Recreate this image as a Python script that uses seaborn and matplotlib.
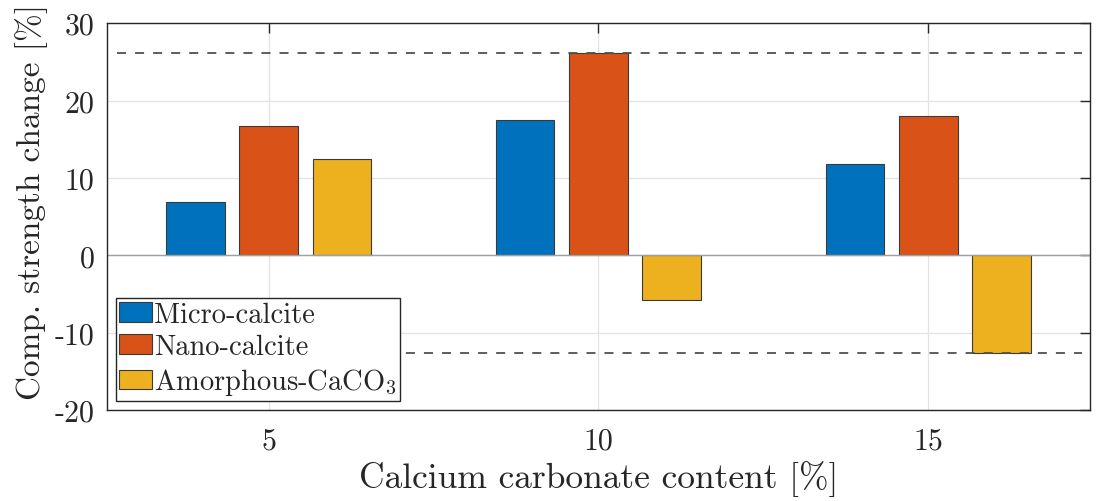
import numpy as np
import pandas as pd
import matplotlib
matplotlib.use("Agg")
import matplotlib.pyplot as plt
import seaborn as sns

# Compressive strength change per calcium carbonate type and content
contents = [5, 10, 15]
micro_calcite = [6.9, 17.5, 11.8]
nano_calcite = [16.7, 26.2, 18.0]
amorphous_caco3 = [12.5, -5.8, -12.6]
series_names = ["Micro-calcite", "Nano-calcite", r"Amorphous-CaCO$_3$"]
colors = ["#0072BD", "#D95319", "#EDB120"]
y_ticks = [-20, -10, 0, 10, 20, 30]

sns.set_theme(style="white")
plt.rcParams["font.family"] = "serif"
plt.rcParams["font.serif"] = ["cmr10"]
plt.rcParams["mathtext.fontset"] = "cm"
plt.rcParams["axes.unicode_minus"] = False

rows = []
for name, vals in zip(series_names, [micro_calcite, nano_calcite, amorphous_caco3]):
    for c, v in zip(contents, vals):
        rows.append({"content": c, "change": v, "type": name})
df = pd.DataFrame(rows)

fig = plt.figure(figsize=(10.96, 5.02), dpi=100)
ax = fig.add_axes([0.0976, 0.181, 0.8969, 0.771])

ax.grid(True, color="#e3e3e3", linewidth=0.9, zorder=0)
ax.set_axisbelow(True)

sns.barplot(data=df, x="content", y="change", hue="type", hue_order=series_names,
            palette=colors, native_scale=True, width=0.667, gap=0.2,
            edgecolor="#3a3a3a", linewidth=0.8, saturation=1, errorbar=None,
            ax=ax, zorder=2)

# Bar baseline
ax.axhline(0, color="#a0a0a0", linewidth=1.0, zorder=2.5)

# Reference lines at the largest and smallest change
all_vals = micro_calcite + nano_calcite + amorphous_caco3
for v in (max(all_vals), min(all_vals)):
    ax.axhline(v, xmin=0.01, xmax=0.992, color="#505050", linewidth=1.3,
               linestyle=(0, (5, 5)), zorder=3)

ax.set_xlim(2.55, 17.45)
ax.set_ylim(-20, 30)
ax.set_xticks(contents)
ax.set_xticklabels([str(c) for c in contents])
ax.set_yticks(y_ticks)
ax.set_yticklabels([str(t) for t in y_ticks])

for s in ax.spines.values():
    s.set_visible(True)
    s.set_color("#262626")
    s.set_linewidth(1.0)
ax.tick_params(axis="both", which="both", direction="in", length=7, width=1.0,
               color="#262626", top=True, right=True, labelsize=21.5,
               labelcolor="#262626")
ax.tick_params(axis="x", pad=12)
ax.tick_params(axis="y", pad=9)

ax.set_xlabel("Calcium carbonate content [%]", fontsize=25.5, color="#262626", labelpad=4)
ax.set_ylabel("Comp. strength change [%]", fontsize=24, color="#262626")
ax.yaxis.set_label_coords(-0.060, 0.54)

leg = ax.legend(loc="lower left", bbox_to_anchor=(0.009, 0.024), borderaxespad=0,
                fontsize=20.5, frameon=True, fancybox=False, framealpha=1,
                edgecolor="#262626", handlelength=1.15, handleheight=0.7,
                handletextpad=0.08, borderpad=0.12, labelspacing=0.22)
leg.get_frame().set_linewidth(1.0)

fig.savefig("out.png", dpi=100)
